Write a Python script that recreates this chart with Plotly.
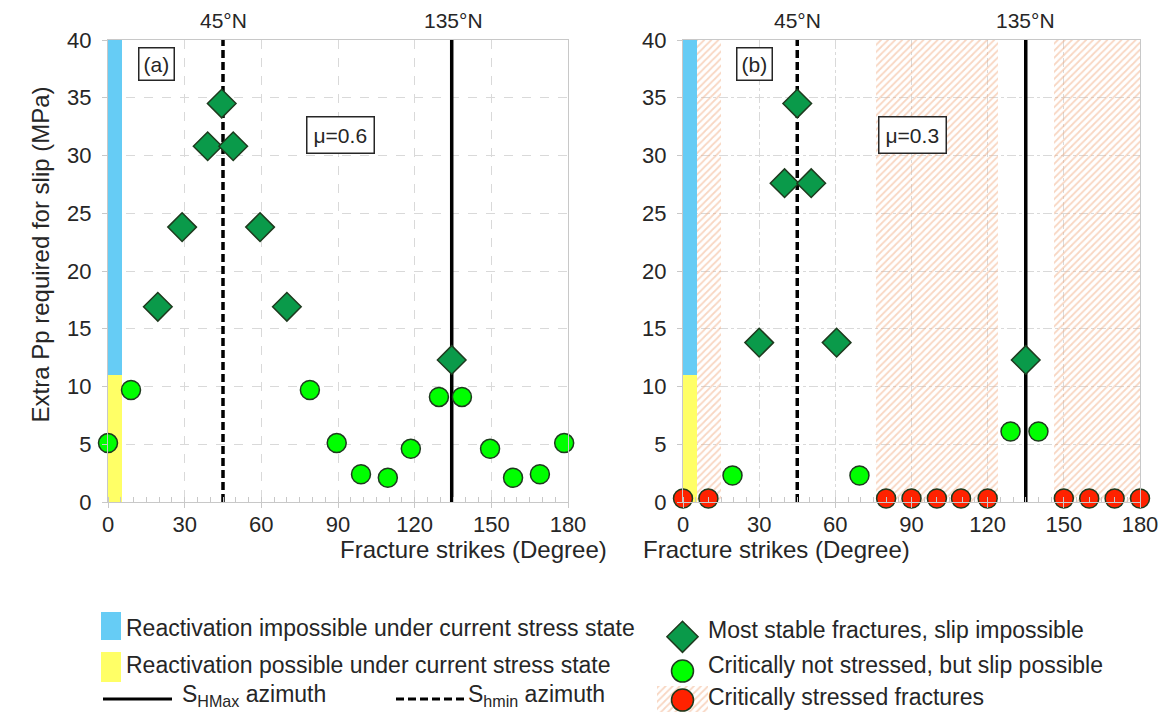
import plotly.graph_objects as go

# ---------------- data ----------------
x_ticks = [0, 30, 60, 90, 120, 150, 180]
y_ticks = [0, 5, 10, 15, 20, 25, 30, 35, 40]

# Panel (a)  mu = 0.6
a_stable_x = [19.5, 29, 39, 44.5, 49, 59.5, 70, 134.5]
a_stable_y = [16.9, 23.8, 30.8, 34.5, 30.8, 23.8, 16.9, 12.3]
a_slip_x = [0, 9, 79, 89.5, 99, 109.5, 118.5, 129.5, 138.5, 149.5, 158.5, 169, 178.5]
a_slip_y = [5.1, 9.7, 9.7, 5.1, 2.4, 2.1, 4.6, 9.1, 9.1, 4.6, 2.1, 2.4, 5.1]

# Panel (b)  mu = 0.3
b_stable_x = [30, 40, 45, 50.5, 60.5, 135]
b_stable_y = [13.8, 27.6, 34.5, 27.6, 13.8, 12.3]
b_slip_x = [19.5, 69.5, 129, 140]
b_slip_y = [2.3, 2.3, 6.1, 6.1]
b_crit_x = [0, 10, 80, 90, 100, 109.5, 120, 150, 160, 170, 180]
b_crit_y = [0.3, 0.3, 0.3, 0.3, 0.3, 0.3, 0.3, 0.3, 0.3, 0.3, 0.3]
b_hatch_start = [5.5, 76, 146]
b_hatch_end = [15, 124, 180]

zone_x = [0, 5.5]          # strike span of the reactivation zone bar
reactivation_limit = 11    # MPa: yellow below, blue above
y_max = 40
shmin_az = 45
shmax_az_a = 134.5
shmax_az_b = 135

# ---------------- styles ----------------
FONT = "Arial, Liberation Sans, sans-serif"
BLUE = "#66CCF5"
YELLOW = "#FFFF66"
DKGREEN = "#0A9A4A"
LTGREEN = "#00FF00"
RED = "#FF2200"
HATCH = "#F2AE86"
GRID = "#D9D9D9"
AXLINE = "#C8C8C8"
TXT = "#262626"

W, H = 1164, 712
def px(x):
    return x / W
def py(y):
    return 1 - y / H

dom_ax = [px(108), px(568)]
dom_bx = [px(683), px(1140)]
dom_y = [py(502), py(40)]

fig = go.Figure()

def zone_bars(xa, ya):
    w = zone_x[1] - zone_x[0]
    c = (zone_x[0] + zone_x[1]) / 2
    fig.add_trace(go.Bar(x=[c], y=[reactivation_limit], base=[0], width=[w],
                         marker=dict(color=YELLOW, line=dict(width=0)),
                         xaxis=xa, yaxis=ya, showlegend=False, hoverinfo="skip"))
    fig.add_trace(go.Bar(x=[c], y=[y_max - reactivation_limit], base=[reactivation_limit], width=[w],
                         marker=dict(color=BLUE, line=dict(width=0)),
                         xaxis=xa, yaxis=ya, showlegend=False, hoverinfo="skip"))

HATCH_PAT = dict(shape="/", fgcolor=HATCH, bgcolor="rgba(0,0,0,0)",
                 size=5, solidity=0.35, fillmode="overlay")

# hatch zones (panel b)
hx = [(s + e) / 2 for s, e in zip(b_hatch_start, b_hatch_end)]
hw = [e - s for s, e in zip(b_hatch_start, b_hatch_end)]
fig.add_trace(go.Bar(x=hx, y=[y_max] * len(hx), base=[0] * len(hx), width=hw,
                     marker=dict(color="rgba(0,0,0,0)", line=dict(width=0), pattern=HATCH_PAT),
                     xaxis="x2", yaxis="y2", showlegend=False, hoverinfo="skip"))

zone_bars("x", "y")
zone_bars("x2", "y2")

def vlines(xa, ya, shmax):
    fig.add_trace(go.Scatter(x=[shmin_az, shmin_az], y=[0, y_max], mode="lines",
                             line=dict(color="black", width=3.5, dash="8px,4px"),
                             xaxis=xa, yaxis=ya, showlegend=False, hoverinfo="skip"))
    fig.add_trace(go.Scatter(x=[shmax, shmax], y=[0, y_max], mode="lines",
                             line=dict(color="black", width=3.5),
                             xaxis=xa, yaxis=ya, showlegend=False, hoverinfo="skip"))

vlines("x", "y", shmax_az_a)
vlines("x2", "y2", shmax_az_b)

def pts(x, y, sym, col, size, xa, ya):
    fig.add_trace(go.Scatter(x=x, y=y, mode="markers", cliponaxis=False,
                             marker=dict(symbol=sym, color=col, size=size, opacity=1,
                                         line=dict(color="#1E3A1E", width=1.5)),
                             xaxis=xa, yaxis=ya, showlegend=False))

pts(a_slip_x, a_slip_y, "circle", LTGREEN, 19, "x", "y")
pts(a_stable_x, a_stable_y, "diamond", DKGREEN, 22, "x", "y")
pts(b_slip_x, b_slip_y, "circle", LTGREEN, 19, "x2", "y2")
pts(b_crit_x, b_crit_y, "circle", RED, 19, "x2", "y2")
pts(b_stable_x, b_stable_y, "diamond", DKGREEN, 22, "x2", "y2")

axis_common = dict(showline=True, linecolor=AXLINE, linewidth=1.2, mirror=True,
                   showgrid=True, gridcolor=GRID, gridwidth=1, automargin=False,
                   zeroline=False, tickfont=dict(family=FONT, size=22, color=TXT),
                   ticks="outside", ticklen=5, tickcolor=AXLINE)

xa = dict(axis_common, range=[0, 180], tickvals=x_ticks, ticklabelstandoff=-3,
          minor=dict(dtick=5, ticks="inside", ticklen=5, tickcolor=AXLINE, showgrid=False))
ya = dict(axis_common, range=[0, y_max], tickvals=y_ticks, ticklabelstandoff=6)

fig.update_layout(
    template="none",
    width=W, height=H, margin=dict(l=0, r=0, t=0, b=0, pad=0, autoexpand=False),
    paper_bgcolor="white", plot_bgcolor="white",
    barmode="overlay", bargap=0,
    xaxis=dict(xa, domain=dom_ax, anchor="y", griddash="dash"),
    yaxis=dict(ya, domain=dom_y, anchor="x", griddash="dash"),
    xaxis2=dict(xa, domain=dom_bx, anchor="y2", griddash="dashdot"),
    yaxis2=dict(ya, domain=dom_y, anchor="x2", griddash="dashdot"),
    showlegend=False,
    font=dict(family=FONT, color=TXT),
)

ann = []
# axis titles
for xc in [(dom_ax[0] + dom_ax[1]) / 2, (dom_bx[0] + dom_bx[1]) / 2]:
    ann.append(dict(text="Fracture strikes (Degree)", x=xc, y=py(549), xref="paper", yref="paper",
                    yanchor="middle", showarrow=False, font=dict(size=24, family=FONT, color=TXT)))
ann.append(dict(text="Extra Pp required for slip (MPa)", x=px(24), y=py(255), xref="paper", yref="paper",
                textangle=-90, showarrow=False, font=dict(size=24, family=FONT, color=TXT)))
# azimuth labels above plots
for xr in ["x", "x2"]:
    for v, lab in [(shmin_az, "45°N"), (shmax_az_b, "135°N")]:
        ann.append(dict(text=lab, x=v, y=py(21), xref=xr, yref="paper", yanchor="middle",
                        showarrow=False, font=dict(size=21, family=FONT, color=TXT)))
# panel labels
box = dict(showarrow=False, bordercolor=TXT, borderwidth=1.5, bgcolor="white",
           font=dict(size=21, family=FONT, color=TXT))
ann.append(dict(box, text="(a)", x=19, y=37.9, xref="x", yref="y", borderpad=4))
ann.append(dict(box, text="μ=0.6", x=91, y=31.8, xref="x", yref="y", borderpad=6))
ann.append(dict(box, text="(b)", x=28, y=37.9, xref="x2", yref="y2", borderpad=4))
ann.append(dict(box, text="μ=0.3", x=90.5, y=31.8, xref="x2", yref="y2", borderpad=6))

# ---------------- custom legend ----------------
LF = dict(size=23, family=FONT, color=TXT)
def ltext(t, x, y):
    ann.append(dict(text=t, x=px(x), y=py(y), xref="paper", yref="paper", showarrow=False,
                    xanchor="left", yanchor="middle", font=LF))

shapes = []
shapes.append(dict(type="rect", xref="paper", yref="paper", x0=px(101), x1=px(121),
                   y0=py(640), y1=py(612), fillcolor=BLUE, line=dict(width=0)))
shapes.append(dict(type="rect", xref="paper", yref="paper", x0=px(101), x1=px(121),
                   y0=py(682), y1=py(652), fillcolor=YELLOW, line=dict(width=0)))
shapes.append(dict(type="line", xref="paper", yref="paper", x0=px(103), x1=px(172),
                   y0=py(699), y1=py(699), line=dict(color="black", width=3)))
shapes.append(dict(type="line", xref="paper", yref="paper", x0=px(396), x1=px(465),
                   y0=py(699), y1=py(699), line=dict(color="black", width=3, dash="8px,4px")))
ltext("Reactivation impossible under current stress state", 124, 628)
ltext("Reactivation possible under current stress state", 124, 665)
ltext("S<sub>HMax</sub> azimuth", 180, 695)
ltext("S<sub>hmin</sub> azimuth", 466, 695)
ltext("Most stable fractures, slip impossible", 706, 630)
ltext("Critically not stressed, but slip possible", 706, 665)
ltext("Critically stressed fractures", 706, 697)

# legend markers via a small hidden axis pair
fig.add_trace(go.Bar(x=[0.5], y=[1], base=[0], width=[1],
                     marker=dict(color="rgba(0,0,0,0)", line=dict(width=0), pattern=HATCH_PAT),
                     xaxis="x3", yaxis="y3", showlegend=False, hoverinfo="skip"))
fig.add_trace(go.Scatter(x=[0.5, 0.5, 0.5], y=[2.85, 1.55, 0.45], mode="markers", cliponaxis=False,
                         marker=dict(symbol=["diamond", "circle", "circle"], opacity=1,
                                     color=[DKGREEN, LTGREEN, RED], size=[24, 22, 22],
                                     line=dict(color="#1E3A1E", width=1.5)),
                         xaxis="x3", yaxis="y3", showlegend=False, hoverinfo="skip"))
fig.update_layout(
    xaxis3=dict(domain=[px(657), px(708)], range=[0, 1], visible=False, anchor="y3", fixedrange=True),
    yaxis3=dict(domain=[py(712), py(617)], range=[0, 3.6], visible=False, anchor="x3", fixedrange=True),
)

fig.update_layout(annotations=ann, shapes=shapes)
fig.write_html("out.html", config={"displayModeBar": False},
               post_script="document.body.style.margin='0px';document.body.style.overflow='hidden';")
